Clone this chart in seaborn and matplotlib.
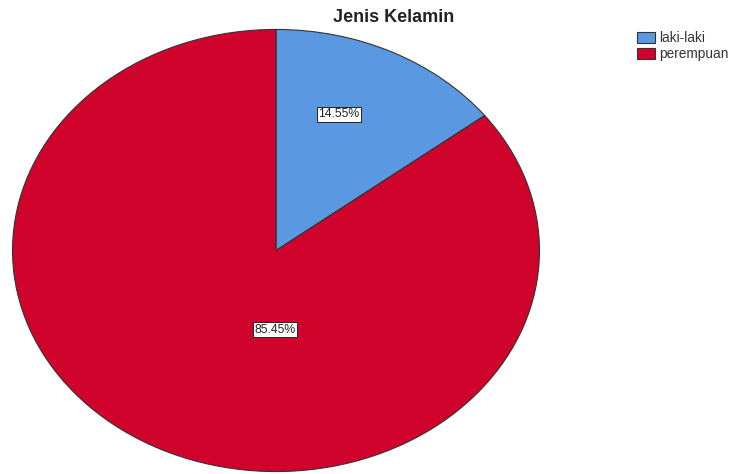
import matplotlib
matplotlib.use("Agg")
import matplotlib.pyplot as plt
import seaborn as sns

categories = ["laki-laki", "perempuan"]
percentages = [14.55, 85.45]
colors = ["#5A98E2", "#D0032C"]

sns.set_theme(style="white")
plt.rcParams["font.family"] = ["Liberation Sans", "DejaVu Sans"]

fig = plt.figure(figsize=(7.32, 4.74), dpi=100)
ax = fig.add_axes([12 / 732, 1 - 472 / 474, 528 / 732, 443 / 474])

wedges, _ = ax.pie(
    percentages,
    colors=colors,
    startangle=90,
    counterclock=False,
    radius=1.0,
    wedgeprops=dict(edgecolor="#333333", linewidth=0.8),
)
ax.set_aspect("auto")
ax.set_xlim(-1.002, 1.002)
ax.set_ylim(-1.002, 1.002)
ax.axis("off")

# value labels in boxed text
label_pos = [(0.238, 0.617), (-0.005, -0.358)]
for (x, y), p in zip(label_pos, percentages):
    ax.text(x, y, f"{p:.2f}%", ha="center", va="center", fontsize=8.8,
            color="#222222",
            bbox=dict(boxstyle="square,pad=0.12", facecolor="white",
                      edgecolor="#222222", linewidth=0.7))

fig.text(394 / 732, 1 - 18 / 474, "Jenis Kelamin", ha="center", va="center",
         fontsize=13, fontweight="bold", color="#222222")

leg = fig.legend(wedges, categories, loc="upper left",
                 bbox_to_anchor=(637 / 732, 1 - 31 / 474),
                 frameon=False, fontsize=9.8, handlelength=1.3,
                 handleheight=0.9, handletextpad=0.3, labelspacing=0.15,
                 borderpad=0.0, borderaxespad=0.0)
for t in leg.get_texts():
    t.set_color("#333333")

fig.savefig("out.png", dpi=100)
